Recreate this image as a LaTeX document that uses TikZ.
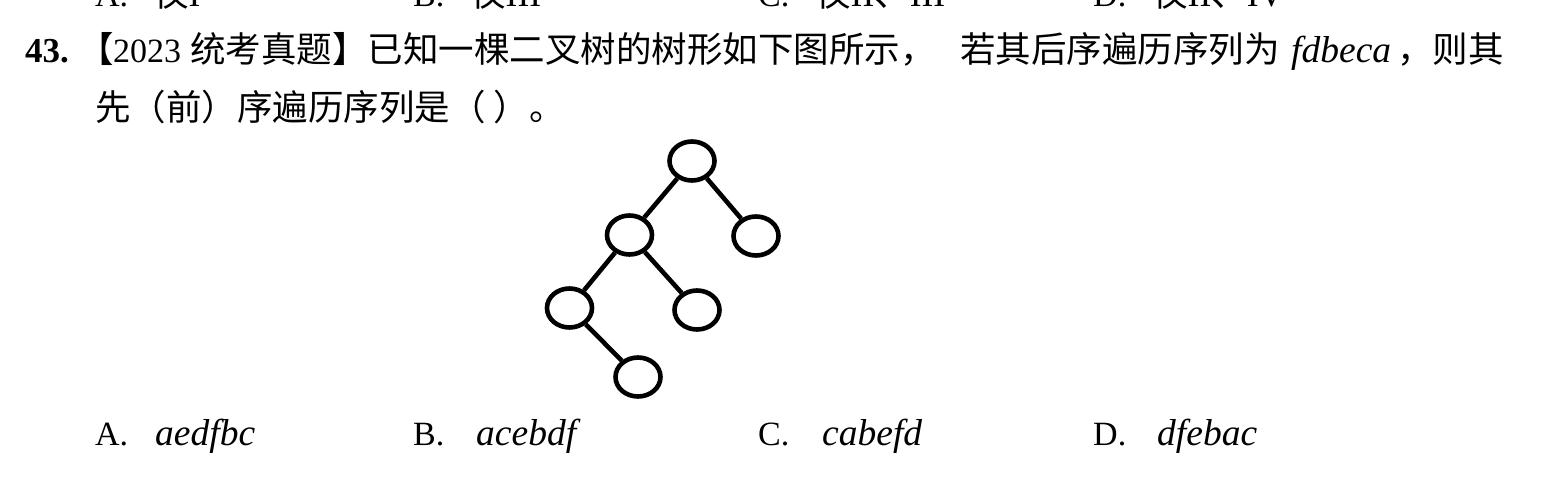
\documentclass[tikz,border=0pt]{standalone}
\usepackage{fontspec}
\setmainfont{Liberation Serif}
\newfontfamily\cjk{Noto Sans CJK SC}
\usetikzlibrary{shapes.geometric}
\tikzset{
  txt/.style={inner sep=0pt, anchor=base west, font=\fontsize{34}{40}\selectfont},
  it/.style={inner sep=0pt, anchor=base west, font=\itshape\fontsize{37.5}{40}\selectfont},
  num/.style={inner sep=0pt, anchor=base west, font=\bfseries\fontsize{35}{40}\selectfont},
  zh/.style={inner sep=0pt, anchor=base west, font=\cjk\fontsize{35.5}{40}\selectfont},
  vtx/.style={draw, ellipse, line width=4.6pt, minimum width=45pt, minimum height=39pt, inner sep=0pt},
  edge/.style={line width=4.6pt}
}
\begin{document}
\begin{tikzpicture}[x=1pt,y=-1pt]
\clip (0,0) rectangle (1558,489);
\fill[white] (0,0) rectangle (1558,489);
% cut-off options of the previous question
\node[txt] (pa) at (95,7) {A.};
\node[zh] (pa2) at (153,7) {仅\fontspec{Liberation Serif} I};
\node[txt] (pb) at (413,7) {B.};
\node[zh] (pb2) at (470,7) {仅\fontspec{Liberation Serif} III};
\node[txt] (pc) at (758,7) {C.};
\node[zh] (pc2) at (815,7) {仅\fontspec{Liberation Serif} II\cjk 、\fontspec{Liberation Serif}III};
\node[txt] (pd) at (1093,7) {D.};
\node[zh] (pd2) at (1152,7) {仅\fontspec{Liberation Serif} II\cjk 、\fontspec{Liberation Serif}IV};
% question
\node[num] (q) at (25,63) {43.};
\node[zh] (l1a) at (78,63) {【};
\node[txt] (l1b) at (113,63) {2023};
\node[zh] (l1c) at (190,63) {统考真题】已知一棵二叉树的树形如下图所示，};
\node[zh] (l1d) at (960,63) {若其后序遍历序列为};
\node[it] (l1e) at (1291,63) {fdbeca};
\node[zh] (l1f) at (1397,63) {，则其};
\node[zh] (l2) at (95,121) {先（前）序遍历序列是（ ）。};
% tree
\node[vtx] (a) at (692,161) {};
\node[vtx] (b) at (629.5,235) {};
\node[vtx] (c) at (756,236) {};
\node[vtx] (d) at (569.5,308) {};
\node[vtx] (e) at (697,310) {};
\node[vtx] (f) at (638,377) {};
\draw[edge] (a) -- (b);
\draw[edge] (a) -- (c);
\draw[edge] (b) -- (d);
\draw[edge] (b) -- (e);
\draw[edge] (d) -- (f);
% options
\node[txt] (oa) at (95,445) {A.};
\node[it] (oa2) at (155,445) {aedfbc};
\node[txt] (ob) at (413,445) {B.};
\node[it] (ob2) at (476,445) {acebdf};
\node[txt] (oc) at (758,445) {C.};
\node[it] (oc2) at (822,445) {cabefd};
\node[txt] (od) at (1093,445) {D.};
\node[it] (od2) at (1157,445) {dfebac};
\end{tikzpicture}
\end{document}
